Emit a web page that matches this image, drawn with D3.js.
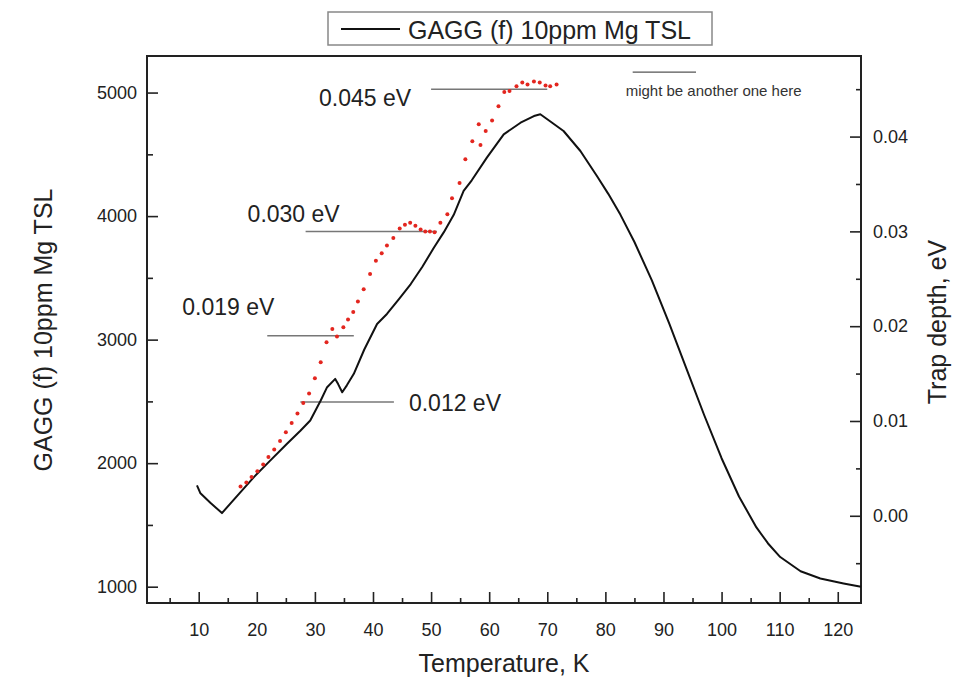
<!DOCTYPE html>
<html>
<head>
<meta charset="utf-8">
<script src="https://cdn.jsdelivr.net/npm/d3@7"></script>
<style>
  body { margin: 0; background: #fff; }
  svg { display: block; font-family: "Liberation Sans", Arial, sans-serif; }
</style>
</head>
<body>
<div id="container"></div>
<script>
// TSL curve (left axis)
let tempK = [9.7, 10.3, 12.0, 14.0, 17.2, 19.5, 22.0, 25.2, 27.5, 29.2, 31.0, 32.1, 33.5, 34.0, 34.7,
  35.5, 36.7, 38.5, 40.7, 42.4, 44.5, 46.5, 48.5, 50.5, 52.2, 53.9, 55.6, 57.0, 59.6, 62.5, 65.4,
  67.7, 68.8, 70.0, 72.8, 75.7, 78.6, 80.5, 82.6, 85, 88, 91, 94, 97, 100, 103, 106, 108, 110.1, 113.6,
  117.0, 121.0, 124.0];
let tslCounts = [1820, 1756, 1680, 1596, 1766, 1887, 2006, 2157, 2262, 2345, 2507, 2615, 2682, 2640, 2574,
  2630, 2723, 2920, 3127, 3208, 3330, 3450, 3590, 3746, 3870, 4010, 4204, 4290, 4473, 4662, 4756,
  4810, 4824, 4784, 4689, 4527, 4320, 4180, 4010, 3790, 3480, 3130, 2760, 2390, 2040, 1730, 1480, 1350, 1240, 1125,
  1066, 1026, 999];

// trap depth points (right axis)
let dotTempK = [17.2, 18.2, 19.1, 20.1, 21.1, 22.0, 23.0, 24.0, 25.0, 26.0, 27.0, 28.0, 29.0, 30.0, 31.0,
  32.0, 33.0, 33.8, 34.9, 35.7, 36.6, 37.4, 38.4, 39.5, 40.5, 41.5, 42.4, 43.5, 44.6, 45.5, 46.4,
  47.3, 48.2, 49.0, 49.8, 50.6, 51.6, 52.8, 53.6, 54.9, 55.9, 57.1, 58.2, 58.5, 59.4, 60.5, 61.6,
  62.6, 63.5, 64.7, 65.7, 66.6, 67.7, 68.7, 69.7, 70.5, 71.6];
let dotDepth = [0.0031, 0.0035, 0.0041, 0.0047, 0.0054, 0.0062, 0.0070, 0.0079, 0.0088, 0.0098, 0.0108, 0.0119, 0.0129, 0.0145, 0.0162,
  0.0183, 0.0197, 0.0189, 0.0199, 0.0207, 0.0215, 0.0226, 0.0239, 0.0255, 0.0269, 0.0277, 0.0285, 0.0293, 0.0303, 0.0307, 0.0309,
  0.0306, 0.0302, 0.0300, 0.0300, 0.0299, 0.0309, 0.0318, 0.0335, 0.0351, 0.0376, 0.0395, 0.0413, 0.0391, 0.0406, 0.0417, 0.0432,
  0.0447, 0.0448, 0.0453, 0.0457, 0.0455, 0.0458, 0.0457, 0.0454, 0.0453, 0.0455];

// trap level markers
let levelLabels = ["0.045 eV", "0.030 eV", "0.019 eV", "0.012 eV"];
let levelDepth = [0.045, 0.030, 0.019, 0.012];
let levelFrom = [50.0, 28.4, 21.8, 27.5];
let levelTo = [70.0, 51.0, 36.7, 43.6];
let noteText = "might be another one here";
let noteDepth = 0.0468;
let noteFrom = 84.7, noteTo = 95.6;

let xTicks = [10, 20, 30, 40, 50, 60, 70, 80, 90, 100, 110, 120];
let xMinor = [5, 15, 25, 35, 45, 55, 65, 75, 85, 95, 105, 115];
let yLTicks = [1000, 2000, 3000, 4000, 5000];
let yLMinor = [1500, 2500, 3500, 4500];
let yRTicks = [0.00, 0.01, 0.02, 0.03, 0.04];
let yRMinor = [-0.005, 0.005, 0.015, 0.025, 0.035, 0.045];

let W = 969, H = 684;
let L = 147, R = 861, T = 56, B = 603;

let svg = d3.select("#container")
  .append("svg")
    .attr("width", W)
    .attr("height", H);

let x = d3.scaleLinear().domain([1.1, 124]).range([L, R]);
let yL = d3.scaleLinear().domain([868, 5296]).range([B, T]);
let yR = d3.scaleLinear().domain([-0.0092, 0.0485]).range([B, T]);

// axes, ticks pointing inward
function styleAxis(g, fs) {
  g.select(".domain").remove();
  g.selectAll("line").attr("stroke", "#222").attr("stroke-width", 1.6);
  g.selectAll("text").attr("font-size", fs).attr("fill", "#222");
}

svg.append("g")
  .attr("transform", "translate(0," + B + ")")
  .call(d3.axisBottom(x).tickValues(xTicks).tickSize(-11).tickPadding(20).tickFormat(d3.format("d")))
  .call(g => styleAxis(g, 18));
svg.append("g")
  .attr("transform", "translate(0," + B + ")")
  .call(d3.axisBottom(x).tickValues(xMinor).tickSize(-5).tickFormat(""))
  .call(g => styleAxis(g, 18));

svg.append("g")
  .attr("transform", "translate(" + L + ",0)")
  .call(d3.axisLeft(yL).tickValues(yLTicks).tickSize(-11).tickPadding(10).tickFormat(d3.format("d")))
  .call(g => styleAxis(g, 18));
svg.append("g")
  .attr("transform", "translate(" + L + ",0)")
  .call(d3.axisLeft(yL).tickValues(yLMinor).tickSize(-6).tickFormat(""))
  .call(g => styleAxis(g, 18));

svg.append("g")
  .attr("transform", "translate(" + R + ",0)")
  .call(d3.axisRight(yR).tickValues(yRTicks).tickSize(-11).tickPadding(12).tickFormat(d3.format(".2f")))
  .call(g => styleAxis(g, 18));
svg.append("g")
  .attr("transform", "translate(" + R + ",0)")
  .call(d3.axisRight(yR).tickValues(yRMinor).tickSize(-5).tickFormat(""))
  .call(g => styleAxis(g, 18));

// frame
svg.append("rect")
  .attr("x", L).attr("y", T)
  .attr("width", R - L).attr("height", B - T)
  .attr("fill", "none")
  .attr("stroke", "#222")
  .attr("stroke-width", 2);

// level lines
let levels = levelDepth.map((d, i) => ({label: levelLabels[i], depth: d, from: levelFrom[i], to: levelTo[i]}));
svg.selectAll(".level").data(levels).enter()
  .append("line")
    .attr("class", "level")
    .attr("x1", d => x(d.from))
    .attr("x2", d => x(d.to))
    .attr("y1", d => yR(d.depth))
    .attr("y2", d => yR(d.depth))
    .attr("stroke", "#777")
    .attr("stroke-width", 1.5);

svg.append("line")
  .attr("x1", x(noteFrom)).attr("x2", x(noteTo))
  .attr("y1", yR(noteDepth)).attr("y2", yR(noteDepth))
  .attr("stroke", "#555")
  .attr("stroke-width", 1.3);

// TSL curve
let curve = tempK.map((k, i) => [k, tslCounts[i]]);
svg.append("path")
  .datum(curve)
  .attr("fill", "none")
  .attr("stroke", "#111")
  .attr("stroke-width", 2)
  .attr("stroke-linejoin", "round")
  .attr("d", d3.line().x(d => x(d[0])).y(d => yL(d[1])));

// trap depth dots
let dots = dotTempK.map((k, i) => [k, dotDepth[i]]);
svg.selectAll(".dot").data(dots).enter()
  .append("circle")
    .attr("class", "dot")
    .attr("cx", d => x(d[0]))
    .attr("cy", d => yR(d[1]))
    .attr("r", 2)
    .attr("fill", "#e3261f");

// level labels, placed next to their lines
function labelPos(d, i) {
  if (i == 0) return [x(d.from) - 20, yR(d.depth) + 17, "end"];
  if (i == 1) return [x(d.from) - 58, yR(d.depth) - 9, "start"];
  if (i == 2) return [x(d.from) - 85, yR(d.depth) - 21, "start"];
  return [x(d.to) + 15, yR(d.depth) + 9, "start"];
}
svg.selectAll(".levelText").data(levels).enter()
  .append("text")
    .attr("class", "levelText")
    .attr("x", (d, i) => labelPos(d, i)[0])
    .attr("y", (d, i) => labelPos(d, i)[1])
    .attr("text-anchor", (d, i) => labelPos(d, i)[2])
    .attr("font-size", 23)
    .attr("fill", "#222")
    .text(d => d.label);

svg.append("text")
  .attr("x", x(noteFrom) - 7)
  .attr("y", yR(noteDepth) + 24)
  .attr("font-size", 15)
  .attr("fill", "#333")
  .text(noteText);

// axis titles
svg.append("text")
  .attr("x", (L + R) / 2)
  .attr("y", 672)
  .attr("text-anchor", "middle")
  .attr("font-size", 25)
  .attr("fill", "#222")
  .text("Temperature, K");

svg.append("text")
  .attr("transform", "translate(52,330) rotate(-90)")
  .attr("text-anchor", "middle")
  .attr("font-size", 25)
  .attr("fill", "#222")
  .text("GAGG (f) 10ppm Mg TSL");

svg.append("text")
  .attr("transform", "translate(946,322) rotate(-90)")
  .attr("text-anchor", "middle")
  .attr("font-size", 25)
  .attr("fill", "#222")
  .text("Trap depth, eV");

// legend
let legend = svg.append("g").attr("transform", "translate(328,12)");
legend.append("rect")
  .attr("width", 384).attr("height", 33)
  .attr("fill", "#fff")
  .attr("stroke", "#888")
  .attr("stroke-width", 1.5);
legend.append("line")
  .attr("x1", 13).attr("x2", 72)
  .attr("y1", 17).attr("y2", 17)
  .attr("stroke", "#111")
  .attr("stroke-width", 2);
legend.append("text")
  .attr("x", 80).attr("y", 27)
  .attr("font-size", 25)
  .attr("fill", "#222")
  .text("GAGG (f) 10ppm Mg TSL");
</script>
</body>
</html>
